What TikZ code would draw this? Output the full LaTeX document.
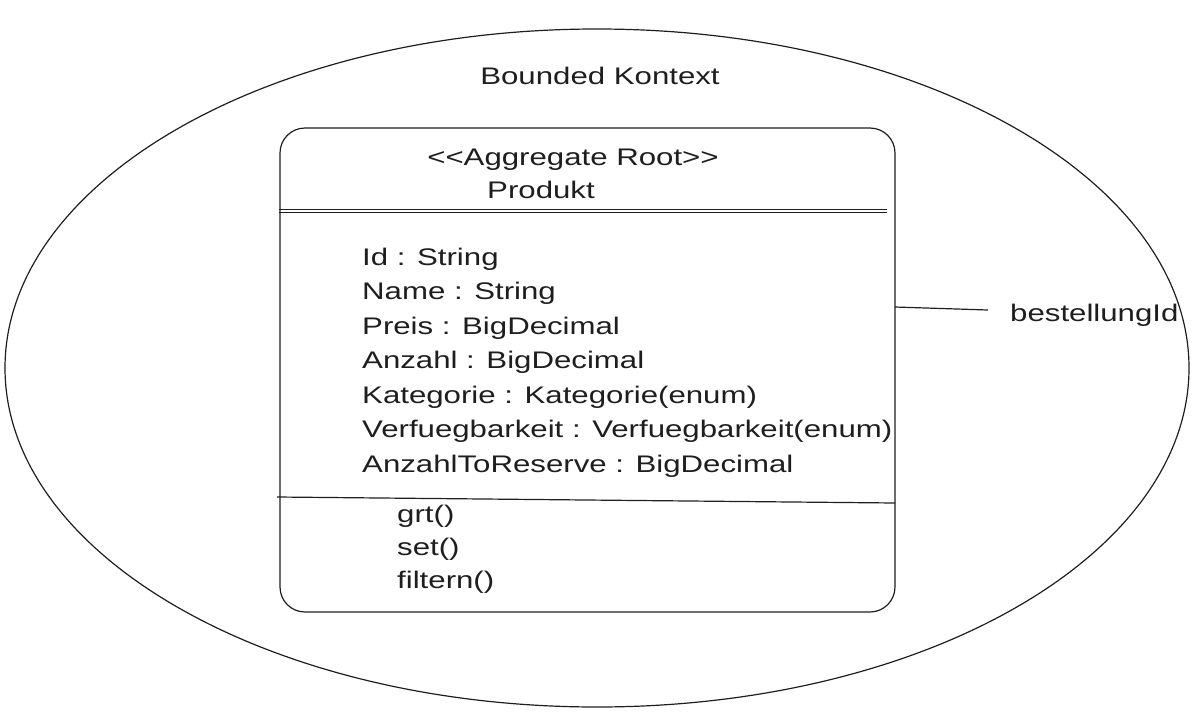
\documentclass[tikz,border=0pt]{standalone}
\usepackage{fontspec}
\setmainfont[FakeStretch=1.3]{Liberation Sans}
\usetikzlibrary{shapes.geometric}
\definecolor{ink}{HTML}{1E1E1E}
\tikzset{
  every node/.style={text=ink},
  txt/.style={font=\fontsize{24}{28}\selectfont, inner sep=0pt},
  attr/.style={txt, anchor=base west},
  stroke/.style={draw=ink, line width=1.2pt},
}
\begin{document}
\begin{tikzpicture}[x=1pt,y=-1pt]
\useasboundingbox (0,0) rectangle (1195,718);
% bounded context ellipse
\node[ellipse, stroke, minimum width=1184pt, minimum height=678pt, inner sep=0pt] (ctx) at (597,368) {};
\node[txt, anchor=base] (title) at (600,84) {Bounded Kontext};
% aggregate root box
\node[stroke, rectangle, rounded corners=25pt, minimum width=615pt, minimum height=484pt, inner sep=0pt] (box) at (587.5,370) {};
\node[txt, anchor=base] (stereo) at (573,165) {{<}{<}Aggregate Root{>}{>}};
\node[txt, anchor=base] (name) at (541,198) {Produkt};
% separators
\coordinate (s1a) at (279,209);
\coordinate (s1b) at (887,209);
\coordinate (s2a) at (279,212);
\coordinate (s2b) at (887,212);
\draw[stroke, line width=0.9pt] (s1a) -- (s1b);
\draw[stroke, line width=0.9pt] (s2a) -- (s2b);
\coordinate (m1) at (277,497);
\coordinate (m2) at (895,503);
\draw[stroke] (m1) -- (m2);
% attributes
\node[attr] (a1) at (362,265) {Id : String};
\node[attr] (a2) at (362,299.5) {Name : String};
\node[attr] (a3) at (362,334) {Preis : BigDecimal};
\node[attr] (a4) at (362,368.5) {Anzahl : BigDecimal};
\node[attr] (a5) at (362,403) {Kategorie : Kategorie(enum)};
\node[attr] (a6) at (362,437.5) {Verfuegbarkeit : Verfuegbarkeit(enum)};
\node[attr] (a7) at (362,472) {AnzahlToReserve : BigDecimal};
% methods
\node[attr] (o1) at (397,522) {grt()};
\node[attr] (o2) at (397,555) {set()};
\node[attr] (o3) at (397,588) {filtern()};
% reference to bestellung
\coordinate (p) at (895,307);
\coordinate (q) at (988,310);
\draw[stroke] (p) -- (q);
\node[attr] (ref) at (1010,321) {bestellungId};
\end{tikzpicture}
\end{document}
